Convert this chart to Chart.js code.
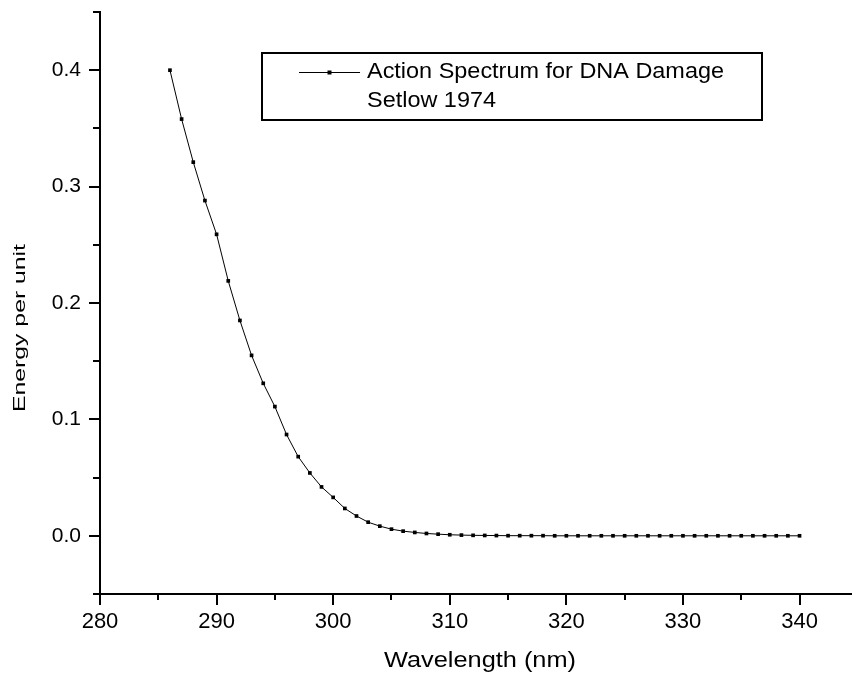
<!DOCTYPE html>
<html>
<head>
<meta charset="utf-8">
<script src="https://cdn.jsdelivr.net/npm/chart.js@4/dist/chart.umd.min.js"></script>
<style>
html,body{margin:0;padding:0;background:#fff;}
#wrap{width:852px;height:674px;position:relative;}
</style>
</head>
<body>
<div id="wrap"><canvas id="c" width="852" height="674"></canvas></div>
<script>
// ---- data ----
const wavelengths = [286,287,288,289,290,291,292,293,294,295,296,297,298,299,300,
  301,302,303,304,305,306,307,308,309,310,311,312,313,314,315,316,317,318,319,320,
  321,322,323,324,325,326,327,328,329,330,331,332,333,334,335,336,337,338,339,340];
const energy = [0.400,0.358,0.321,0.288,0.259,0.219,0.185,0.155,0.131,0.111,0.087,0.068,0.054,0.042,0.033,
  0.0235,0.017,0.0117,0.0083,0.0057,0.0040,0.0029,0.0020,0.0014,0.0009,0.0006,0.0004,0.0003,0.0002,0.0001,0.0001,0.0001,0.0001,0,0,
  0,0,0,0,0,0,0,0,0,0,0,0,0,0,0,0,0,0,0,0];
const legendLines = ['Action Spectrum for DNA Damage', 'Setlow 1974'];
const xTitle = 'Wavelength (nm)';
const yTitle = 'Energy per unit';
const xTickLabels = [280,290,300,310,320,330,340];
const yTickLabels = [0.0,0.1,0.2,0.3,0.4];

const FONT = '"Liberation Sans", Arial, Helvetica, sans-serif';

function isXMajor(v){ return xTickLabels.some(t => Math.abs(t - v) < 1e-6); }
function isYMajor(v){ return yTickLabels.some(t => Math.abs(t - v) < 1e-6); }

function drawStretched(ctx, text, x, y, targetWidth, size, align, rot){
  ctx.save();
  ctx.font = size + 'px ' + FONT;
  const w = ctx.measureText(text).width;
  const s = targetWidth / w;
  ctx.translate(x, y);
  if (rot) ctx.rotate(rot);
  ctx.scale(s, 1);
  ctx.textAlign = align;
  ctx.textBaseline = 'alphabetic';
  ctx.fillStyle = '#000';
  ctx.fillText(text, 0, 0);
  ctx.restore();
}

const decorPlugin = {
  id: 'decor',
  afterDraw(chart){
    const ctx = chart.ctx;
    const xs = chart.scales.x, ys = chart.scales.y;
    const ca = chart.chartArea;
    ctx.save();
    ctx.strokeStyle = '#000';
    ctx.lineWidth = 2;
    // x ticks
    xs.ticks.forEach(t => {
      const px = Math.round(xs.getPixelForValue(t.value));
      const len = isXMajor(t.value) ? 11 : 6;
      ctx.beginPath();
      ctx.moveTo(px, ca.bottom);
      ctx.lineTo(px, ca.bottom + len);
      ctx.stroke();
    });
    // y ticks
    ys.ticks.forEach(t => {
      const py = Math.round(ys.getPixelForValue(t.value));
      const len = isYMajor(t.value) ? 11 : 7;
      ctx.beginPath();
      ctx.moveTo(ca.left, py);
      ctx.lineTo(ca.left - len, py);
      ctx.stroke();
    });
    ctx.restore();

    // axis titles
    drawStretched(ctx, xTitle, 480, 667, 192, 22, 'center', 0);
    drawStretched(ctx, yTitle, 25, 328, 168, 17, 'center', -Math.PI/2);

    // legend
    const bx = ca.left + 162, by = 53, bw = 500, bh = 67;
    ctx.save();
    ctx.strokeStyle = '#000';
    ctx.lineWidth = 2;
    ctx.strokeRect(bx, by, bw, bh);
    ctx.lineWidth = 1;
    ctx.beginPath();
    ctx.moveTo(bx + 37, by + 19.5);
    ctx.lineTo(bx + 98, by + 19.5);
    ctx.stroke();
    ctx.fillStyle = '#000';
    ctx.fillRect(bx + 65.5, by + 17.5, 4, 4);
    ctx.restore();
    drawStretched(ctx, legendLines[0], bx + 105, by + 24.5, 357, 22, 'left', 0);
    drawStretched(ctx, legendLines[1], bx + 105, by + 54, 129, 22, 'left', 0);
  }
};

new Chart(document.getElementById('c'), {
  type: 'line',
  data: {
    datasets: [{
      label: legendLines.join(' '),
      data: wavelengths.map((w, i) => ({x: w, y: energy[i]})),
      borderColor: '#000',
      borderWidth: 1,
      backgroundColor: '#000',
      pointStyle: 'rect',
      pointRadius: 2.6,
      pointBorderWidth: 0,
      pointBackgroundColor: '#000',
      tension: 0,
      fill: false
    }]
  },
  options: {
    responsive: false,
    animation: false,
    devicePixelRatio: 1,
    layout: {autoPadding: false, padding: {top: 12, left: 0, right: 0, bottom: 0}},
    plugins: {legend: {display: false}, tooltip: {enabled: false}},
    scales: {
      x: {
        type: 'linear',
        min: 280, max: 344.5,
        border: {display: true, color: '#000', width: 2},
        grid: {display: true, drawOnChartArea: false, drawTicks: true, tickLength: 11, tickColor: 'rgba(0,0,0,0)'},
        ticks: {
          stepSize: 5, includeBounds: false, autoSkip: false, maxRotation: 0,
          padding: 4, color: '#000',
          font: {family: FONT, size: 22},
          callback: v => isXMajor(v) ? String(Math.round(v)) : ''
        },
        afterFit: s => { s.height = 80; s.paddingLeft = 0; s.paddingRight = 0; }
      },
      y: {
        type: 'linear',
        min: -0.05, max: 0.45,
        border: {display: true, color: '#000', width: 2},
        grid: {display: true, drawOnChartArea: false, drawTicks: true, tickLength: 11, tickColor: 'rgba(0,0,0,0)'},
        ticks: {
          stepSize: 0.05, includeBounds: false, autoSkip: false,
          padding: 8, color: '#000',
          font: {family: FONT, size: 21},
          callback: v => isYMajor(v) ? v.toFixed(1) : ''
        },
        afterFit: s => { s.width = 100; s.paddingTop = 0; s.paddingBottom = 0; }
      }
    }
  },
  plugins: [decorPlugin]
});
</script>
</body>
</html>
